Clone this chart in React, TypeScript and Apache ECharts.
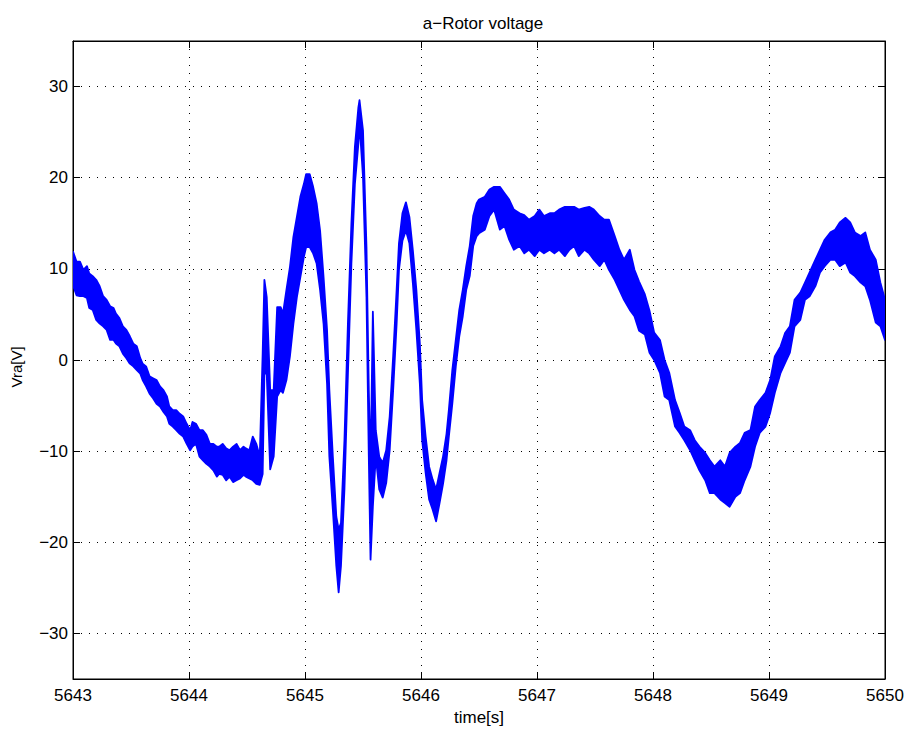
import React, { useEffect, useRef } from 'react';
import * as echarts from 'echarts';

const chartTitle = 'a−Rotor voltage';
const xName = 'time[s]';
const yName = 'Vra[V]';

// time (s) of each reading, with the upper and lower edge of the noisy trace there (V)
const timeS = [
  5643.00, 5643.03, 5643.06, 5643.09, 5643.12, 5643.14, 5643.17, 5643.20, 5643.23, 5643.26,
  5643.29, 5643.32, 5643.35, 5643.37, 5643.40, 5643.43, 5643.46, 5643.49, 5643.52, 5643.55,
  5643.58, 5643.60, 5643.63, 5643.66, 5643.69, 5643.72, 5643.75, 5643.78, 5643.81, 5643.83,
  5643.86, 5643.89, 5643.92, 5643.95, 5643.98, 5644.01, 5644.03, 5644.06, 5644.09, 5644.12,
  5644.15, 5644.18, 5644.21, 5644.24, 5644.26, 5644.29, 5644.32, 5644.35, 5644.38, 5644.41,
  5644.44, 5644.47, 5644.49, 5644.52, 5644.55, 5644.58, 5644.61,
  5644.635, 5644.65, 5644.67, 5644.70, 5644.73, 5644.76, 5644.79, 5644.81, 5644.84, 5644.87,
  5644.90, 5644.93, 5644.96, 5644.99, 5645.01, 5645.04, 5645.07, 5645.10, 5645.13, 5645.16,
  5645.19, 5645.21, 5645.24, 5645.27, 5645.29, 5645.31, 5645.34, 5645.37, 5645.40, 5645.43,
  5645.46, 5645.47, 5645.50, 5645.53, 5645.55, 5645.565, 5645.585, 5645.61, 5645.64, 5645.67,
  5645.70, 5645.73, 5645.76, 5645.79, 5645.81, 5645.84, 5645.87, 5645.90, 5645.93, 5645.96,
  5645.99, 5646.01, 5646.04, 5646.07, 5646.10, 5646.13, 5646.16,
  5646.19, 5646.22, 5646.24, 5646.27, 5646.30, 5646.33, 5646.36, 5646.39, 5646.42, 5646.45,
  5646.48, 5646.50, 5646.55, 5646.59, 5646.63, 5646.68, 5646.72, 5646.76, 5646.80, 5646.85,
  5646.89, 5646.93, 5646.98, 5647.02, 5647.06, 5647.11, 5647.15, 5647.19, 5647.24, 5647.28,
  5647.32, 5647.36, 5647.41, 5647.45, 5647.49, 5647.54, 5647.58, 5647.62, 5647.67, 5647.71,
  5647.75, 5647.80, 5647.84, 5647.88, 5647.93, 5647.97,
  5648.01, 5648.06, 5648.10, 5648.14, 5648.19, 5648.23, 5648.27, 5648.32, 5648.36, 5648.40,
  5648.45, 5648.49, 5648.53, 5648.58, 5648.62, 5648.66, 5648.71, 5648.75, 5648.79, 5648.84,
  5648.88, 5648.92, 5648.97, 5649.01, 5649.05, 5649.10, 5649.14, 5649.18, 5649.22, 5649.27,
  5649.31, 5649.35, 5649.40, 5649.44, 5649.48, 5649.53, 5649.57, 5649.61, 5649.66, 5649.70,
  5649.74, 5649.79, 5649.83, 5649.87, 5649.92, 5649.96, 5650.00,
];

const upperV = [
  11.9, 10.8, 10.8, 9.9, 10.3, 9.5, 9.2, 8.8, 8.1, 7.0,
  6.6, 5.9, 5.7, 5.1, 4.6, 3.7, 3.3, 2.6, 1.8, 1.5,
  0.2, -0.4, -0.7, -1.8, -2.0, -2.2, -2.9, -3.3, -4.0, -5.1,
  -5.5, -5.5, -5.9, -6.2, -7.0, -7.7, -6.8, -7.0, -7.7, -7.7,
  -8.2, -9.2, -9.2, -9.5, -9.5, -9.2, -9.7, -9.9, -9.5, -9.2,
  -9.9, -9.5, -9.7, -9.9, -8.4, -9.2, -10.6,
  0.7, 8.8, 6.9, -3.3, -3.3, 5.8, 5.8, 5.1, 7.7, 10.2,
  13.5, 15.7, 17.9, 19.3, 20.4, 20.4, 19.0, 17.2, 14.2, 9.1,
  3.3, -3.3, -10.6, -17.2, -18.6, -17.9, -8.8, 4.0, 15.0, 23.4,
  27.7, 28.5, 25.2, 12.4, -3.3, -12.0, 5.3, -7.7, -10.6, -11.3,
  -9.9, -6.2, 0.4, 7.7, 12.8, 16.1, 17.3, 15.7, 12.0, 7.7,
  1.8, -4.4, -8.4, -11.7, -13.1, -14.2, -12.4,
  -10.6, -8.1, -5.5, -1.1, 2.2, 5.5, 7.7, 10.3, 12.5, 15.8,
  17.2, 17.6, 17.9, 18.7, 19.0, 19.0, 18.3, 17.6, 16.5, 16.1,
  15.9, 15.4, 15.8, 16.5, 15.8, 16.1, 16.1, 16.5, 16.8, 16.8,
  16.8, 16.5, 16.7, 16.8, 16.5, 15.8, 15.4, 15.4, 13.6, 12.1,
  11.0, 12.1, 9.9, 8.6, 7.2, 5.4,
  3.0, 2.2, 0.0, -1.4, -4.4, -5.8, -7.3, -7.7, -8.8, -9.5,
  -10.2, -11.0, -11.7, -11.0, -11.7, -10.2, -9.5, -9.1, -8.0, -7.7,
  -5.1, -4.4, -3.6, -2.2, 0.4, 1.5, 3.0, 3.7, 6.6, 7.4,
  8.5, 9.6, 11.0, 12.1, 13.2, 14.0, 14.3, 15.1, 15.6, 15.1,
  14.0, 13.6, 14.0, 12.1, 11.0, 8.5, 6.6,
];

const lowerV = [
  8.2, 7.1, 7.0, 7.0, 6.8, 5.7, 5.5, 4.4, 4.0, 3.7,
  3.3, 2.2, 2.2, 1.8, 1.5, 0.7, 0.2, -0.4, -0.7, -1.1,
  -1.5, -2.2, -2.9, -3.7, -4.2, -4.8, -5.1, -5.7, -6.2, -7.0,
  -7.3, -7.7, -8.1, -8.4, -9.2, -9.9, -9.5, -9.2, -10.6, -11.0,
  -11.4, -11.7, -12.1, -12.8, -12.5, -12.6, -13.2, -12.8, -13.4, -13.2,
  -13.0, -12.6, -12.8, -13.0, -13.2, -13.6, -13.7,
  -12.5, -1.5, -1.5, -12.0, -10.6, -4.0, -3.3, -3.6, -2.2, 0.4,
  4.0, 6.9, 9.1, 11.3, 12.4, 12.4, 11.7, 10.6, 7.7, 4.0,
  -2.6, -10.6, -16.4, -22.6, -25.5, -22.6, -14.2, -1.5, 10.6, 19.3,
  23.7, 25.9, 20.1, 6.9, -10.6, -21.9, -16.1, -10.6, -14.2, -15.1,
  -13.5, -9.9, -3.3, 4.0, 9.9, 13.1, 14.2, 12.8, 8.4, 3.3,
  -2.6, -8.8, -12.4, -15.3, -16.4, -17.7, -15.7,
  -13.6, -11.0, -8.4, -4.8, -0.7, 2.6, 4.8, 7.7, 9.2, 12.5,
  13.6, 13.9, 14.3, 15.8, 16.5, 14.3, 14.7, 13.2, 12.1, 12.5,
  11.7, 12.1, 11.4, 12.1, 11.7, 12.1, 11.7, 12.1, 11.4, 12.1,
  12.5, 11.4, 12.1, 11.7, 11.0, 10.3, 11.0, 9.9, 8.8, 7.7,
  6.6, 5.5, 4.8, 3.2, 2.8, 0.8,
  0.0, -1.4, -4.0, -4.4, -7.3, -8.0, -8.8, -9.9, -11.0, -12.1,
  -13.2, -14.6, -14.6, -15.3, -15.7, -16.1, -15.0, -14.6, -13.2, -11.7,
  -9.5, -8.0, -7.3, -5.8, -3.6, -1.4, -0.3, 0.8, 3.7, 4.4,
  6.6, 7.0, 8.1, 9.6, 10.3, 11.0, 11.0, 10.3, 10.7, 9.6,
  9.2, 8.5, 8.1, 6.6, 4.1, 3.7, 2.2,
];

const xMin = 5643;
const xMax = 5650;
const yMin = -35;
const yMax = 35;

const FONT = '"Liberation Sans", Arial, Helvetica, sans-serif';

export default function App() {
  const ref = useRef<HTMLDivElement>(null);

  useEffect(() => {
    document.body.style.margin = '0';
    const chart = echarts.init(ref.current as HTMLDivElement, null, { renderer: 'svg' });

    const bandData = timeS.map((t, i) => [t, lowerV[i], upperV[i]]);

    const labelFmt = (v: number) => String(v).replace('-', '\u2212');
    const grid = { left: 73, top: 41, width: 812, height: 638 };
    const dotted = { color: '#000', width: 1, type: [1, 7] as number[] };

    const axisBase = {
      axisLine: { show: true, onZero: false, lineStyle: { color: '#000', width: 1 } },
      axisTick: { show: true, inside: true, length: 7, lineStyle: { color: '#000' } },
    };

    chart.setOption({
      animation: false,
      backgroundColor: '#ffffff',
      grid: { ...grid, show: true, borderColor: '#000', borderWidth: 1, backgroundColor: '#fff' },
      graphic: [
        {
          type: 'text', x: 483, y: 23,
          style: { text: chartTitle, font: `17px ${FONT}`, fill: '#000', align: 'center', verticalAlign: 'middle' },
        },
        {
          type: 'text', x: 479, y: 717,
          style: { text: xName, font: `17px ${FONT}`, fill: '#000', align: 'center', verticalAlign: 'middle' },
        },
        {
          type: 'text', x: 16, y: 367, rotation: Math.PI / 2,
          style: { text: yName, font: `15px ${FONT}`, fill: '#000', align: 'center', verticalAlign: 'middle' },
        },
      ],
      xAxis: [
        {
          type: 'value', min: xMin, max: xMax, interval: 1, position: 'bottom',
          ...axisBase,
          axisLabel: { show: true, margin: 8, color: '#000', fontSize: 17, fontFamily: FONT, formatter: labelFmt },
          splitLine: { show: true, lineStyle: dotted },
        },
        {
          type: 'value', min: xMin, max: xMax, interval: 1, position: 'top',
          ...axisBase,
          axisLabel: { show: false },
          splitLine: { show: false },
        },
      ],
      yAxis: [
        {
          type: 'value', min: yMin, max: yMax, splitNumber: 7, position: 'left',
          ...axisBase,
          axisLabel: {
            show: true, margin: 5, color: '#000', fontSize: 17, fontFamily: FONT,
            showMinLabel: false, showMaxLabel: false,
            formatter: (v: number) => (Math.abs(v) === 35 ? '' : labelFmt(v)),
          },
          splitLine: { show: true, lineStyle: dotted },
        },
        {
          type: 'value', min: yMin, max: yMax, splitNumber: 7, position: 'right',
          ...axisBase,
          axisLabel: { show: false },
          splitLine: { show: false },
        },
      ],
      series: [
        {
          type: 'custom',
          xAxisIndex: 0,
          yAxisIndex: 0,
          data: bandData,
          encode: { x: 0, y: [1, 2] },
          clip: true,
          silent: true,
          renderItem: (params: any, api: any) => {
            if (params.dataIndex !== 0) return null;
            const top: number[][] = [];
            const bottom: number[][] = [];
            for (let i = 0; i < timeS.length; i++) {
              top.push(api.coord([timeS[i], upperV[i]]));
              bottom.push(api.coord([timeS[i], lowerV[i]]));
            }
            const points = top.concat(bottom.reverse());
            return {
              type: 'polygon',
              shape: { points },
              style: { fill: '#0000ff', stroke: '#0000ff', lineWidth: 1.8, lineJoin: 'round' },
            };
          },
        },
      ],
    });

    return () => chart.dispose();
  }, []);

  return (
    <div
      ref={ref}
      style={{ position: 'fixed', left: 0, top: 0, width: 909, height: 731, background: '#fff' }}
    />
  );
}
